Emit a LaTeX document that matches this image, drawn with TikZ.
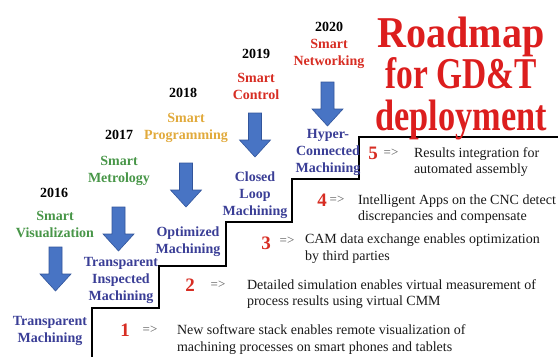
\documentclass[tikz,border=0pt]{standalone}
\usepackage{fontspec}
\setmainfont{Liberation Serif}
\definecolor{mblue}{RGB}{58,62,150}
\definecolor{sgreen}{RGB}{72,150,72}
\definecolor{sorange}{RGB}{225,170,60}
\definecolor{sred}{RGB}{215,45,35}
\definecolor{tred}{RGB}{220,30,30}
\definecolor{afill}{RGB}{72,116,196}
\definecolor{aline}{RGB}{50,85,155}
\definecolor{impgray}{RGB}{90,90,90}
\begin{document}
\begin{tikzpicture}[x=1bp,y=-1bp,
  every node/.style={inner sep=0pt, outer sep=0pt},
  lbl/.style={font=\bfseries\fontsize{14bp}{17bp}\selectfont, align=center, text=mblue},
  smart/.style={font=\bfseries\fontsize{14bp}{17bp}\selectfont, align=center},
  yr/.style={font=\bfseries\fontsize{14bp}{17bp}\selectfont, text=black},
  desc/.style={font=\fontsize{14bp}{16.5bp}\selectfont, align=left, anchor=west, text=black!90},
  num/.style={font=\bfseries\fontsize{19bp}{19bp}\selectfont, text=sred},
  impl/.style={font=\fontsize{13bp}{13bp}\selectfont, text=impgray},
  titlestyle/.style={font=\bfseries\fontsize{44bp}{41.5bp}\selectfont, align=center, text=tred},
  stair/.style={line width=2bp, black, line join=miter},
  darrow/.pic={\filldraw[fill=afill, draw=aline, line width=0.6bp, line join=miter]
     (-6.5,0) -- (6.5,0) -- (6.5,27) -- (15.5,27) -- (0,44) -- (-15.5,27) -- (-6.5,27) -- cycle;}
]
\useasboundingbox (0,0) rectangle (560,356);

% staircase
\draw[stair] (92,357) |- (159,308) |- (226,266) |- (292,222) |- (359,179) |- (558,137);

% title
\node[titlestyle] (title) at (461,78) {\scalebox{0.91}[1]{Roadmap}\\\scalebox{0.76}[1]{for GD\&T}\\\scalebox{0.78}[1]{deployment}};

% years
\node[yr] (y16) at (54,193) {2016};
\node[yr] (y17) at (119,135) {2017};
\node[yr] (y18) at (183,93) {2018};
\node[yr] (y19) at (256,54) {2019};
\node[yr] (y20) at (329,27) {2020};

% smart labels
\node[smart, text=sgreen] (s16) at (55,224) {Smart\\Visualization};
\node[smart, text=sgreen] (s17) at (119,170.5) {Smart\\Metrology};
\node[smart, text=sorange] (s18) at (186,128) {Smart\\Programming};
\node[smart, text=sred] (s19) at (256,86.5) {Smart\\Control};
\node[smart, text=sred] (s20) at (329,54) {Smart\\Networking};

% arrows
\pic at (55.5,247) {darrow};
\pic at (118.5,207) {darrow};
\pic at (186,163) {darrow};
\pic at (255,113) {darrow};
\pic at (327.5,82) {darrow};

% machining labels
\node[lbl] (m16) at (50,331) {Transparent\\Machining};
\node[lbl] (m17) at (121,280.5) {Transparent\\Inspected\\Machining};
\node[lbl] (m18) at (188,242) {Optimized\\Machining};
\node[lbl] (m19) at (255,195) {Closed\\Loop\\Machining};
\node[lbl] (m20) at (328,152.5) {Hyper-\\Connected\\Machining};

% numbered descriptions
\node[num] (n1) at (125,330) {1};
\node[impl] (i1) at (150,330) {=>};
\node[desc] (d1) at (177,339.5) {New software stack enables remote visualization of\\machining processes on smart phones and tablets};

\node[num] (n2) at (190,285) {2};
\node[impl] (i2) at (218,285) {=>};
\node[desc] (d2) at (247,294) {Detailed simulation enables virtual measurement of\\process results using virtual CMM};

\node[num] (n3) at (266,243) {3};
\node[impl] (i3) at (287,241) {=>};
\node[desc] (d3) at (305,248.5) {CAM data exchange enables optimization\\by third parties};

\node[num] (n4) at (322,200) {4};
\node[impl] (i4) at (337,200) {=>};
\node[desc] (d4) at (358,209) {Intelligent Apps on the CNC detect\\discrepancies and compensate};

\node[num] (n5) at (373,153) {5};
\node[impl] (i5) at (391,153) {=>};
\node[desc] (d5) at (414,162) {Results integration for\\automated assembly};
\end{tikzpicture}
\end{document}
